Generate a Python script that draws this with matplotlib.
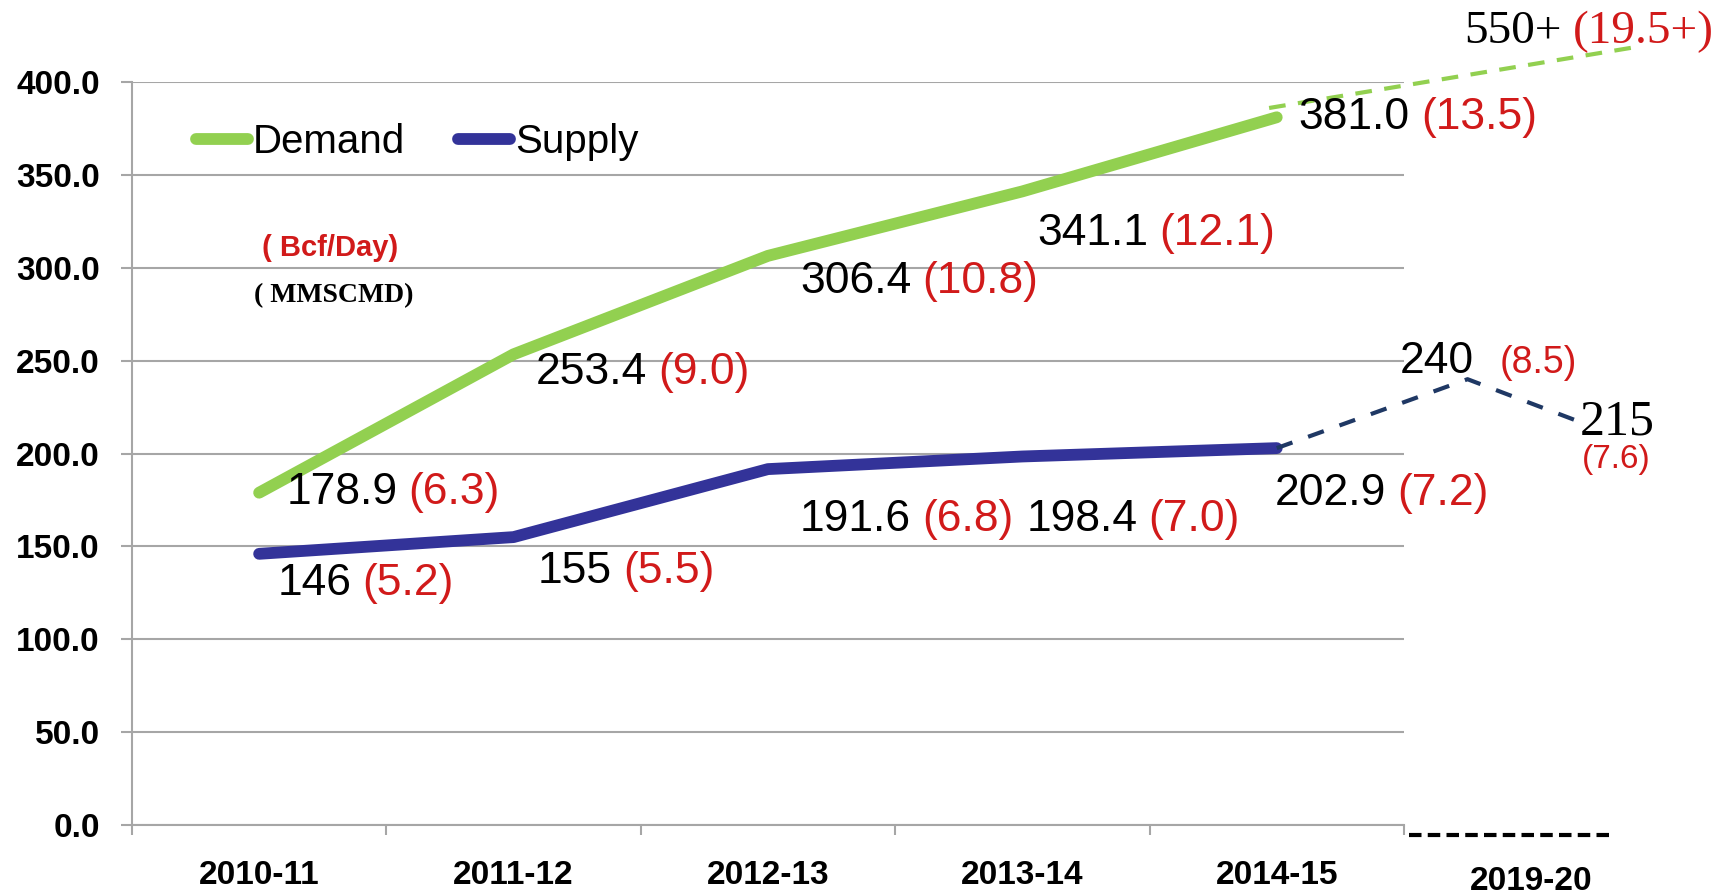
import matplotlib
matplotlib.use('Agg')
import matplotlib.pyplot as plt
import numpy as np

# gas demand / supply in MMSCMD, with Bcf/day in brackets
years = ['2010-11', '2011-12', '2012-13', '2013-14', '2014-15']
forecast_year = '2019-20'

demand = [178.9, 253.4, 306.4, 341.1, 381.0]
demand_text = ['178.9', '253.4', '306.4', '341.1', '381.0']
demand_bcf = ['(6.3)', '(9.0)', '(10.8)', '(12.1)', '(13.5)']

supply = [146, 155, 191.6, 198.4, 202.9]
supply_text = ['146', '155', '191.6', '198.4', '202.9']
supply_bcf = ['(5.2)', '(5.5)', '(6.8)', '(7.0)', '(7.2)']

# dashed projections drawn past the last year
demand_proj_x = [3.97, 5.42]
demand_proj = [386, 419]
supply_proj_x = [4.0, 4.75, 5.23]
supply_proj = [202.9, 240, 215]

green = '#92D050'
blue = '#333399'
navy = '#1F3864'
red = '#D11A1A'
grid_gray = '#A6A6A6'
sans = 'Liberation Sans'
serif = 'Liberation Serif'

fig = plt.figure(figsize=(17.29, 8.96), dpi=100)
ax = fig.add_axes([0.0763, 0.0792, 0.7357, 0.8293])

x = np.arange(len(years))
ax.plot(x, demand, color=green, lw=8.5, solid_capstyle='round', label='Demand', zorder=3)
ax.plot(x, supply, color=blue, lw=8.5, solid_capstyle='round', label='Supply', zorder=3)
ax.plot(demand_proj_x, demand_proj, color=green, lw=3, dashes=(4, 3), clip_on=False, zorder=3)
ax.plot(supply_proj_x, supply_proj, color=navy, lw=3, dashes=(4, 4), clip_on=False, zorder=3)

ax.set_xlim(-0.5, 4.5)
ax.set_ylim(0, 400)
ax.set_yticks(np.arange(0, 401, 50))
ax.set_yticklabels(['%.1f' % v for v in np.arange(0, 401, 50)],
                   fontsize=24, fontweight='bold', family=sans)
ax.set_xticks(x)
ax.set_xticklabels(years, fontsize=24, fontweight='bold', family=sans)
ax.set_xticks(np.arange(-0.5, 5, 1), minor=True)
ax.tick_params(axis='x', which='major', length=0, pad=25)
ax.tick_params(axis='x', which='minor', length=7, width=1.5, color=grid_gray)
ax.tick_params(axis='y', length=8, width=1.5, color=grid_gray, pad=15)

ax.yaxis.grid(True, color=grid_gray, lw=1.5)
ax.set_axisbelow(True)
for s in ['top', 'right']:
    ax.spines[s].set_visible(False)
for s in ['left', 'bottom']:
    ax.spines[s].set_color(grid_gray)
    ax.spines[s].set_linewidth(1.5)

# forecast year label and the dashed base under it
ax.annotate(forecast_year, xy=(5, 0), xycoords=('data', 'axes fraction'),
            xytext=(0, -47), textcoords='offset points', ha='center', va='baseline',
            fontsize=24, fontweight='bold', family=sans, annotation_clip=False)
ax.plot([4.52, 5.31], [-0.014, -0.014], transform=ax.get_xaxis_transform(),
        color='black', lw=3, dashes=(3, 1.5), clip_on=False)


def value_label(xv, yv, txt, bcf, dx, dy, size=32, font=sans):
    t = ax.annotate(txt, xy=(xv, yv), xytext=(dx * 0.72, dy * 0.72),
                    textcoords='offset points', ha='left', va='center',
                    fontsize=size, family=font, color='black', annotation_clip=False)
    if bcf:
        ax.annotate(bcf, xy=(1, 0.5), xycoords=t, xytext=(8, 0),
                    textcoords='offset points', ha='left', va='center',
                    fontsize=size, family=font, color=red, annotation_clip=False)
    return t


demand_off = [(27, 0), (22, -18), (32, -26), (15, -42), (22, 0)]
supply_off = [(18, -30), (24, -34), (32, -50), (4, -63), (-2, -45)]
for i in range(len(years)):
    value_label(x[i], demand[i], demand_text[i], demand_bcf[i], *demand_off[i])
    value_label(x[i], supply[i], supply_text[i], supply_bcf[i], *supply_off[i])

# projection labels
value_label(demand_proj_x[-1], demand_proj[-1], '550+', '(19.5+)', -174, 15, size=34, font=serif)
ax.annotate('240', xy=(supply_proj_x[1], supply_proj[1]), xytext=(6 * 0.72, 18 * 0.72),
            textcoords='offset points', ha='right', va='center', fontsize=32,
            family=sans, annotation_clip=False)
ax.annotate('(8.5)', xy=(supply_proj_x[1], supply_proj[1]), xytext=(32 * 0.72, 16 * 0.72),
            textcoords='offset points', ha='left', va='center', fontsize=27,
            family=sans, color=red, annotation_clip=False)
ax.annotate('215', xy=(supply_proj_x[2], supply_proj[2]), xytext=(-10 * 0.72, 3 * 0.72),
            textcoords='offset points', ha='left', va='center', fontsize=36,
            family=serif, annotation_clip=False)
ax.annotate('(7.6)', xy=(supply_proj_x[2], supply_proj[2]), xytext=(-8 * 0.72, -34 * 0.72),
            textcoords='offset points', ha='left', va='center', fontsize=24,
            family=sans, color=red, annotation_clip=False)

# unit notes
ax.text(0.156, 0.776, '( Bcf/Day)', transform=ax.transAxes, ha='center', va='center',
        fontsize=21, fontweight='bold', family=sans, color=red)
ax.text(0.159, 0.713, '( MMSCMD)', transform=ax.transAxes, ha='center', va='center',
        fontsize=20, fontweight='bold', family=serif, color='black')

leg = ax.legend(loc='center left', bbox_to_anchor=(0.05, 0.919), ncol=2, frameon=False,
                handlelength=1.3, handletextpad=0.13, columnspacing=1.3,
                borderpad=0, borderaxespad=0, prop={'family': sans, 'size': 29})

fig.savefig('out.png', dpi=100)
